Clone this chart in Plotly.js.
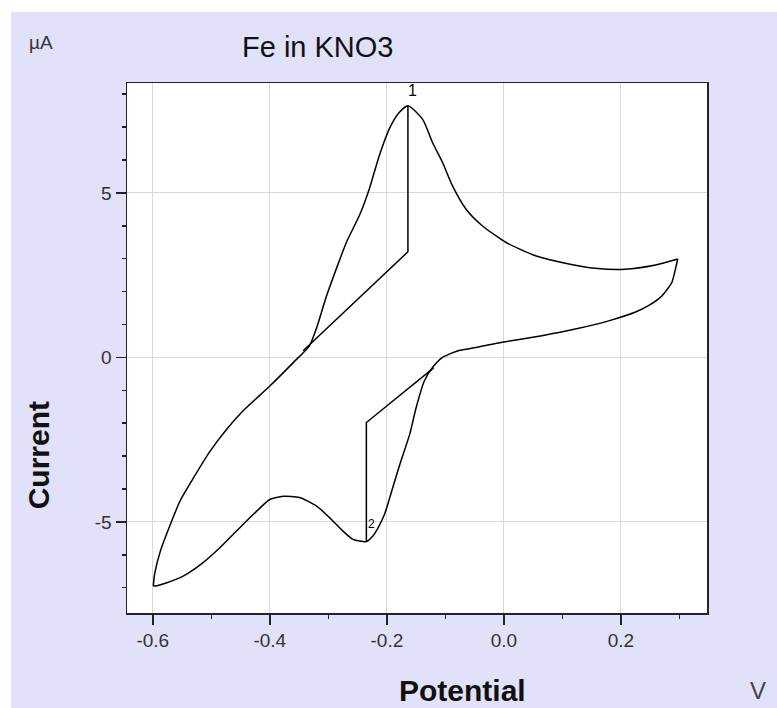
<!DOCTYPE html>
<html>
<head>
<meta charset="utf-8">
<script src="https://cdn.plot.ly/plotly-3.0.1.min.js"></script>
<style>
  html, body { margin: 0; padding: 0; background: #ffffff; }
  #chart { position: absolute; left: 11px; top: 12px; width: 766px; height: 696px; }
</style>
</head>
<body>
<div id="chart"></div>
<script>
// ---- Data ----
// Forward (anodic) scan, from -0.6 V up to +0.3 V
const forwardPotential = [-0.599, -0.597, -0.587, -0.570, -0.553, -0.531, -0.502, -0.474, -0.446, -0.400,
  -0.360, -0.332, -0.319, -0.303, -0.269, -0.247, -0.230, -0.213, -0.196, -0.181, -0.164, -0.139, -0.122,
  -0.105, -0.088, -0.065, -0.037, 0.003, 0.054, 0.111, 0.156, 0.207, 0.259, 0.297];
const forwardCurrent = [-6.95, -6.6, -5.89, -5.08, -4.35, -3.68, -2.85, -2.19, -1.63, -0.87,
  -0.16, 0.36, 0.95, 1.87, 3.50, 4.31, 5.12, 6.13, 6.94, 7.40, 7.65, 7.24, 6.53,
  5.93, 5.22, 4.51, 4.0, 3.50, 3.09, 2.84, 2.71, 2.68, 2.81, 2.99];

// Reverse (cathodic) scan, from +0.3 V back to -0.6 V
const reversePotential = [0.297, 0.293, 0.287, 0.270, 0.247, 0.224, 0.179, 0.122, 0.065, -0.003, -0.048,
  -0.077, -0.105, -0.122, -0.136, -0.150, -0.161, -0.176, -0.190, -0.204, -0.215, -0.224, -0.235,
  -0.258, -0.275, -0.298, -0.320, -0.349, -0.377, -0.400, -0.428, -0.457, -0.485, -0.514, -0.548,
  -0.576, -0.596, -0.599];
const reverseCurrent = [2.99, 2.68, 2.28, 1.87, 1.57, 1.37, 1.11, 0.86, 0.66, 0.46, 0.30,
  0.21, 0.0, -0.31, -0.72, -1.53, -2.34, -3.15, -3.96, -4.77, -5.18, -5.43, -5.60,
  -5.53, -5.28, -4.87, -4.52, -4.26, -4.22, -4.32, -4.77, -5.28, -5.78, -6.24, -6.65,
  -6.85, -6.95, -6.95];

// Peak 1 baseline + height marker
const peak1Potential = [-0.343, -0.164, -0.164];
const peak1Current = [0.20, 3.21, 7.65];
// Peak 2 baseline + height marker
const peak2Potential = [-0.120, -0.235, -0.235];
const peak2Current = [-0.32, -1.98, -5.60];

// Peak labels
const peakLabels = ['1', '2'];
const peakLabelPotential = [-0.157, -0.226];
const peakLabelCurrent = [8.12, -5.06];

// Tick labels
const xTickVals = [-0.6, -0.4, -0.2, 0.0, 0.2];
const xTickText = ['-0.6', '-0.4', '-0.2', '0.0', '0.2'];
const xMinorVals = [-0.5, -0.3, -0.1, 0.1, 0.3];
const yTickVals = [-5, 0, 5];
const yTickText = ['-5', '0', '5'];
const yMinorVals = [-7, -6, -4, -3, -2, -1, 1, 2, 3, 4, 6, 7, 8];

// ---- Chart ----
function tr(x, y, smooth) {
  return { x: x, y: y, type: 'scatter', mode: 'lines',
    line: smooth ? { color: '#000000', width: 1.5, shape: 'spline', smoothing: 0.6 } : { color: '#000000', width: 1.5 },
    hoverinfo: 'skip', showlegend: false };
}
const traces = [
  tr(forwardPotential, forwardCurrent, true),
  tr(reversePotential, reverseCurrent, true),
  tr(peak1Potential, peak1Current, false),
  tr(peak2Potential, peak2Current, false)
];

const tickFont = { family: 'Liberation Sans, Arial, sans-serif', size: 19, color: '#333333' };

const annotations = [
  { text: 'Fe in KNO3', xref: 'paper', yref: 'paper', x: 0.329, y: 1.068, showarrow: false,
    xanchor: 'center', yanchor: 'middle', font: { family: 'Liberation Sans, Arial, sans-serif', size: 29, color: '#111111' } },
  { text: 'µA', xref: 'paper', yref: 'paper', x: -0.148, y: 1.077, showarrow: false,
    xanchor: 'center', yanchor: 'middle', font: { family: 'Liberation Sans, Arial, sans-serif', size: 19, color: '#333333' } },
  { text: '<b>Current</b>', xref: 'paper', yref: 'paper', x: -0.153, y: 0.298, showarrow: false, textangle: -90,
    xanchor: 'center', yanchor: 'middle', font: { family: 'Liberation Sans, Arial, sans-serif', size: 30, color: '#111111' } },
  { text: '<b>Potential</b>', xref: 'paper', yref: 'paper', x: 0.579, y: -0.147, showarrow: false,
    xanchor: 'center', yanchor: 'middle', font: { family: 'Liberation Sans, Arial, sans-serif', size: 30, color: '#111111' } },
  { text: 'V', xref: 'paper', yref: 'paper', x: 1.088, y: -0.147, showarrow: false,
    xanchor: 'center', yanchor: 'middle', font: { family: 'Liberation Sans, Arial, sans-serif', size: 24, color: '#444444' } }
];
peakLabels.forEach(function (t, i) {
  annotations.push({ text: t, x: peakLabelPotential[i], y: peakLabelCurrent[i], xref: 'x', yref: 'y',
    showarrow: false, xanchor: 'center', yanchor: 'middle',
    font: { family: 'Liberation Sans, Arial, sans-serif', size: i === 0 ? 16 : 12, color: '#000000' } });
});

const layout = {
  width: 766, height: 696,
  margin: { l: 116, r: 70, t: 71, b: 95, pad: 0 },
  paper_bgcolor: '#e1e1f9',
  plot_bgcolor: '#ffffff',
  showlegend: false,
  xaxis: {
    range: [-0.644, 0.347], tickmode: 'array', tickvals: xTickVals, ticktext: xTickText,
    ticks: 'outside', ticklen: 10, tickwidth: 1.5, tickcolor: '#222222',
    showgrid: true, gridcolor: '#d9d9d9', gridwidth: 1, zeroline: false,
    showline: true, linecolor: '#222233', linewidth: 1.5, mirror: true,
    tickfont: tickFont,
    minor: { tickmode: 'array', tickvals: xMinorVals, ticks: 'outside', ticklen: 4, tickcolor: '#222222', showgrid: false }
  },
  yaxis: {
    range: [-7.77, 8.34], tickmode: 'array', tickvals: yTickVals, ticktext: yTickText,
    ticks: 'outside', ticklen: 10, tickwidth: 1.5, tickcolor: '#222222',
    showgrid: true, gridcolor: '#d9d9d9', gridwidth: 1, zeroline: false,
    showline: true, linecolor: '#222233', linewidth: 1.5, mirror: true,
    tickfont: tickFont,
    minor: { tickmode: 'array', tickvals: yMinorVals, ticks: 'outside', ticklen: 4, tickcolor: '#222222', showgrid: false }
  },
  annotations: annotations
};

Plotly.newPlot('chart', traces, layout, { displayModeBar: false, staticPlot: true });
</script>
</body>
</html>
